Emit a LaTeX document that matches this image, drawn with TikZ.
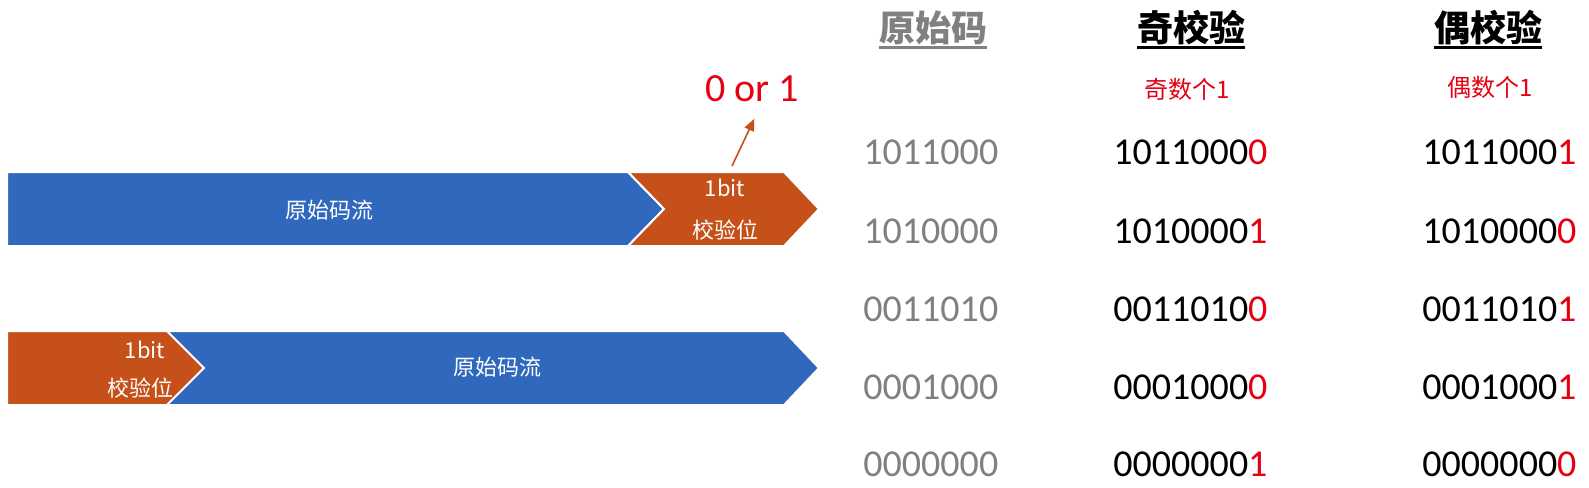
\documentclass[tikz,border=0pt]{standalone}
\usepackage{fontspec}
\setmainfont{Carlito}
\newfontfamily\cjk{Noto Sans CJK SC}
\usetikzlibrary{arrows.meta}
\definecolor{rawblue}{HTML}{2F68BD}
\definecolor{bitorange}{HTML}{C5501A}
\definecolor{parred}{HTML}{E50012}
\definecolor{rawgray}{HTML}{808080}
\tikzset{
  bar/.style={
    draw=white,
    line width=1pt
  },
  bartext/.style={
    text=white,
    inner sep=0pt,
    font=\cjk\fontsize{11}{13}\selectfont
  },
  header/.style={
    inner sep=0pt,
    font=\cjk\bfseries\fontsize{18}{20}\selectfont
  },
  uline/.style={
    line width=1.5pt
  },
  subhead/.style={
    text=parred,
    inner sep=0pt,
    font=\cjk\fontsize{12}{14}\selectfont
  },
  num/.style={
    anchor=west,
    inner sep=0pt,
    font=\fontsize{19}{21}\selectfont
  },
  pickline/.style={
    -{Triangle[length=6pt,width=5pt]},
    draw=bitorange,
    line width=0.8pt
  }
}

\begin{document}
\begin{tikzpicture}[x=0.5pt, y=-0.5pt]
  \useasboundingbox[fill=white] (0,0) rectangle (1589,487);

  % parity bit after the stream
  \path[bar, fill=rawblue] (7,172) -- (628,172) -- (664,209) -- (628,246) -- (7,246) -- cycle;
  \path[bar, fill=bitorange] (628,172) -- (784,172) -- (819,209) -- (784,246) -- (628,246) -- (664,209) -- cycle;
  \node[bartext] (rawA) at (329,210) {原始码流};
  \node[bartext] (bitA) at (725,188) {1bit};
  \node[bartext] (chkA) at (725,230) {校验位};
  \node[inner sep=0pt, text=parred, font=\fontsize{20}{22}\selectfont] (pick) at (752,89) {0 or 1};
  \coordinate (bitTop) at (732,166);
  \draw[pickline, shorten >=9pt] (bitTop) -- ([xshift=5pt]pick.south);

  % parity bit before the stream
  \path[bar, fill=bitorange] (7,331) -- (167,331) -- (204,368) -- (167,405) -- (7,405) -- cycle;
  \path[bar, fill=rawblue] (167,331) -- (784,331) -- (819,368) -- (784,405) -- (167,405) -- (204,368) -- cycle;
  \node[bartext] (bitB) at (145,350) {1bit};
  \node[bartext] (chkB) at (140,388) {校验位};
  \node[bartext] (rawB) at (497,367) {原始码流};

  % table
  \node[header, text=rawgray] (hRaw) at (933,28) {原始码};
  \node[header] (hOdd) at (1191,28) {奇校验};
  \node[header] (hEven) at (1488,28) {偶校验};
  \draw[uline, rawgray] ([yshift=-1pt]hRaw.south west) -- ([yshift=-1pt]hRaw.south east);
  \draw[uline] ([yshift=-1pt]hOdd.south west) -- ([yshift=-1pt]hOdd.south east);
  \draw[uline] ([yshift=-1pt]hEven.south west) -- ([yshift=-1pt]hEven.south east);
  \node[subhead] (sOdd) at (1187,89) {奇数个1};
  \node[subhead] (sEven) at (1490,87) {偶数个1};

  \foreach \y/\raw/\op/\ep in {152/1011000/0/1, 231/1010000/1/0, 309/0011010/0/1,
                               387/0001000/0/1, 464/0000000/1/0}{
    \node[num, text=rawgray] (raw\y) at (863,\y) {\raw};
    \node[num] (odd\y) at (1113,\y) {\raw\textcolor{parred}{\op}};
    \node[num] (even\y) at (1422,\y) {\raw\textcolor{parred}{\ep}};
  }
\end{tikzpicture}
\end{document}
